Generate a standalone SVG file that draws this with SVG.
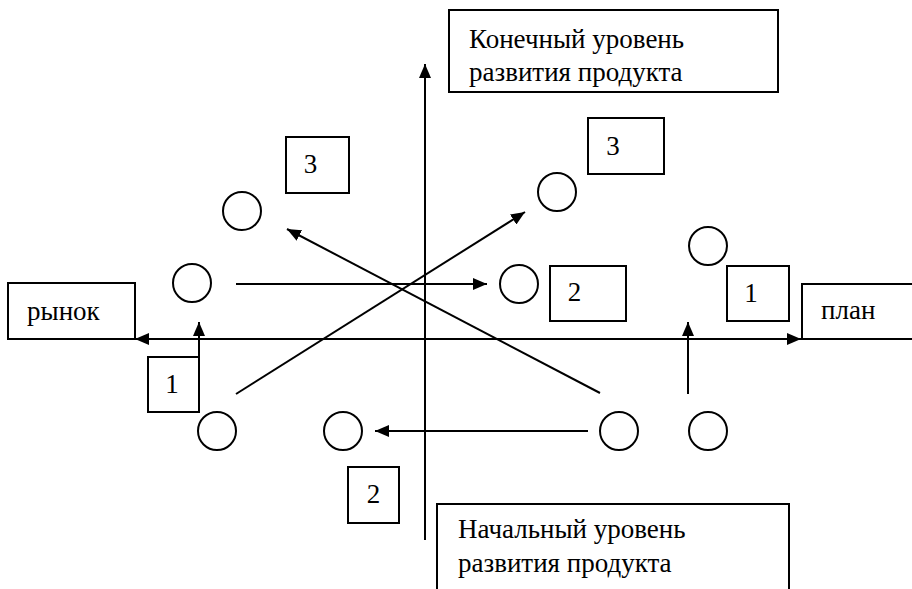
<svg xmlns="http://www.w3.org/2000/svg" width="912" height="589" viewBox="0 0 912 589">
<style>
.box{fill:#fff;stroke:#000;stroke-width:2}
.c{fill:none;stroke:#000;stroke-width:2}
.ln{fill:none;stroke:#000;stroke-width:2}
.ar{fill:none;stroke:#000;stroke-width:2;marker-end:url(#ah)}
.t{font-family:'Liberation Serif','Times New Roman',serif;font-size:27px;fill:#000}
.n{text-anchor:middle}
</style>
<defs>
<marker id="ah" markerUnits="userSpaceOnUse" markerWidth="14" markerHeight="12" refX="14" refY="6" orient="auto-start-reverse">
<path d="M0,0 L14,6 L0,12 z" fill="#000"/>
</marker>
</defs>
<rect width="912" height="589" fill="#fff"/>
<g id="connectors">
<line class="ln" x1="425" y1="540" x2="425" y2="64" marker-end="url(#ah)"/>
<line class="ln" x1="135" y1="339" x2="801" y2="339" marker-start="url(#ah)" marker-end="url(#ah)"/>
<line class="ar" x1="236" y1="284" x2="487" y2="284"/>
<line class="ar" x1="588" y1="431" x2="375" y2="431"/>
<line class="ar" x1="236" y1="394" x2="525" y2="212"/>
<line class="ar" x1="600" y1="393" x2="287" y2="229"/>
<line class="ar" x1="199" y1="357" x2="199" y2="322"/>
<line class="ar" x1="688" y1="394" x2="688" y2="322"/>
</g>
<g id="box-top"><rect class="box" x="449" y="10" width="329" height="82"/><text class="t" x="469" y="48">Конечный уровень</text><text class="t" x="469" y="81">развития продукта</text></g>
<g id="box-bottom"><rect class="box" x="437" y="504" width="352" height="100"/><text class="t" x="458" y="538">Начальный уровень</text><text class="t" x="458" y="572">развития продукта</text></g>
<g id="box-market"><rect class="box" x="8" y="283" width="127" height="56"/><text class="t" x="27" y="320">рынок</text></g>
<g id="box-plan"><rect class="box" x="802" y="284" width="120" height="55"/><text class="t" x="821" y="319">план</text></g>
<g id="box-3-left"><rect class="box" x="286" y="137" width="63" height="56"/><text class="t n" x="310.5" y="173">3</text></g>
<g id="box-3-right"><rect class="box" x="588" y="118" width="76" height="56"/><text class="t n" x="613" y="155">3</text></g>
<g id="box-2-mid"><rect class="box" x="550" y="266" width="76" height="55"/><text class="t n" x="574.5" y="301">2</text></g>
<g id="box-1-right"><rect class="box" x="727" y="266" width="62" height="55"/><text class="t n" x="751" y="302">1</text></g>
<g id="box-1-left"><rect class="box" x="148" y="357" width="51" height="55"/><text class="t n" x="172" y="393">1</text></g>
<g id="box-2-bottom"><rect class="box" x="348" y="467" width="51" height="56"/><text class="t n" x="373.5" y="503">2</text></g>
<g id="circle-1"><circle class="c" cx="242" cy="211" r="19"/></g>
<g id="circle-2"><circle class="c" cx="192" cy="283" r="19"/></g>
<g id="circle-3"><circle class="c" cx="557" cy="192" r="19"/></g>
<g id="circle-4"><circle class="c" cx="519" cy="284" r="19"/></g>
<g id="circle-5"><circle class="c" cx="708" cy="246" r="19"/></g>
<g id="circle-6"><circle class="c" cx="217" cy="431" r="19"/></g>
<g id="circle-7"><circle class="c" cx="343" cy="431" r="19"/></g>
<g id="circle-8"><circle class="c" cx="619" cy="431" r="19"/></g>
<g id="circle-9"><circle class="c" cx="708" cy="431" r="19"/></g>
</svg>
